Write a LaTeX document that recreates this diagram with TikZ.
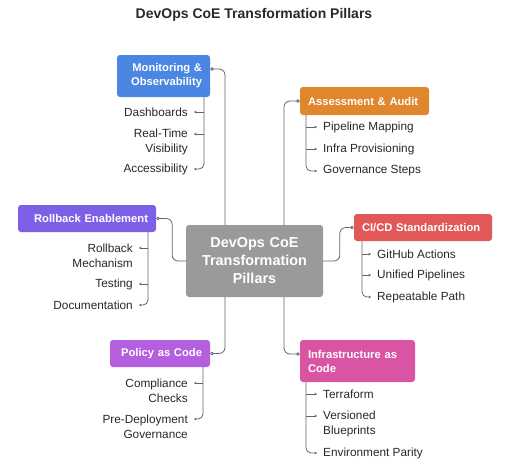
\documentclass[tikz,border=0pt]{standalone}
\usepackage{fontspec}
\setmainfont{Liberation Sans}
\usetikzlibrary{arrows.meta}

\definecolor{monblue}{RGB}{74,134,226}
\definecolor{auditorange}{RGB}{224,134,44}
\definecolor{rollpurple}{RGB}{125,96,230}
\definecolor{cicdred}{RGB}{226,88,88}
\definecolor{policyviolet}{RGB}{180,94,224}
\definecolor{infrapink}{RGB}{218,84,164}
\definecolor{hubgray}{RGB}{154,154,154}
\definecolor{textgray}{RGB}{40,40,40}
\definecolor{linkgray}{RGB}{100,100,100}

\tikzset{
  pillar/.style={rounded corners=3pt, text=white, inner xsep=8pt, inner ysep=0pt,
    minimum height=27pt, font=\fontsize{11.2}{14}\selectfont\bfseries},
  leftpillar/.style={pillar, align=right},
  rightpillar/.style={pillar, align=left},
  leaf/.style={text=textgray, inner xsep=6pt, inner ysep=1pt, font=\fontsize{11.8}{15}\selectfont},
  link/.style={draw=linkgray, line width=0.8pt, rounded corners=6pt},
  branch/.style={draw=linkgray, line width=0.8pt, rounded corners=5pt, -{Stealth[length=2.5pt,width=2.5pt]}},
}

\begin{document}
\begin{tikzpicture}[x=1pt,y=1pt,yscale=-1,xscale=1]
\path (0,0) rectangle (512,471); %set diagram to the reference size

%Title
\node[text=textgray, font=\fontsize{14}{16}\selectfont\bfseries] (title) at (254,15) {DevOps CoE Transformation Pillars};

%Hub
\node[fill=hubgray, rounded corners=3pt, text=white, align=center, text width=121pt, inner xsep=8pt,
  minimum height=72pt, font=\fontsize{14.4}{18}\selectfont\bfseries] (hub) at (254.5,261) {DevOps CoE\\Transformation\\Pillars};
\coordinate (ht1) at (225,225);
\coordinate (ht2) at (284,225);
\coordinate (hb1) at (225,297);
\coordinate (hb2) at (284,297);

%Pillars
\node[leftpillar, fill=monblue, text width=77pt, minimum height=42pt] (mon) at (163.5,76) {Monitoring \&\\Observability};
\node[rightpillar, fill=auditorange, text width=113pt, minimum height=28pt] (audit) at (364.5,101) {Assessment \& Audit};
\node[leftpillar, fill=rollpurple, text width=122pt] (roll) at (87,218.5) {Rollback Enablement};
\node[rightpillar, fill=cicdred, text width=122pt] (cicd) at (423,227.5) {CI/CD Standardization};
\node[leftpillar, fill=policyviolet, text width=84pt] (policy) at (160,353.5) {Policy as Code};
\node[rightpillar, fill=infrapink, text width=99pt, minimum height=42pt] (infra) at (357.5,361) {Infrastructure as\\Code};

%Links from pillars to hub
\draw[link, {Circle[open,length=3.5pt]}-] ([yshift=-7pt]mon.east) -| (ht1);
\draw[link, {Circle[open,length=3.5pt]}-] (audit.west) -| (ht2);
\draw[link, {Circle[open,length=3.5pt]}-] (roll.east) -- ++(16,0) |- (hub.west);
\draw[link, {Circle[open,length=3.5pt]}-] (cicd.west) -- ++(-14,0) |- (hub.east);
\draw[link, {Circle[open,length=3.5pt]}-] (policy.east) -| (hb1);
\draw[link, {Circle[open,length=3.5pt]}-] ([yshift=-7pt]infra.west) -| (hb2);

%Monitoring leaves
\node[leaf, anchor=east] (dash) at (194,112) {Dashboards};
\node[leaf, anchor=east, align=right] (rtvis) at (194,141.5) {Real-Time\\Visibility};
\node[leaf, anchor=east] (access) at (194,169) {Accessibility};
\coordinate (monspine) at (204,97);
\coordinate (rtvisln) at ([yshift=-7.5pt]rtvis.east);
\draw[branch] (monspine |- dash.east) -- (dash.east);
\draw[branch] (monspine |- rtvisln) -- (rtvisln);
\draw[branch] (monspine) |- (access.east);

%Audit leaves
\node[leaf, anchor=west] (pipemap) at (317,127) {Pipeline Mapping};
\node[leaf, anchor=west] (infraprov) at (317,149) {Infra Provisioning};
\node[leaf, anchor=west] (govsteps) at (317,171) {Governance Steps};
\coordinate (auditspine) at (306,115);
\draw[branch] (auditspine |- pipemap.west) -- (pipemap.west);
\draw[branch] (auditspine |- infraprov.west) -- (infraprov.west);
\draw[branch] (auditspine) |- (govsteps.west);

%Rollback leaves
\node[leaf, anchor=east, align=right] (rbmech) at (139,255.5) {Rollback\\Mechanism};
\node[leaf, anchor=east] (testing) at (139,284) {Testing};
\node[leaf, anchor=east] (docs) at (139,305) {Documentation};
\coordinate (rollspine) at (148,232);
\coordinate (rbmechln) at ([yshift=-7.5pt]rbmech.east);
\draw[branch] (rollspine |- rbmechln) -- (rbmechln);
\draw[branch] (rollspine |- testing.east) -- (testing.east);
\draw[branch] (rollspine) |- (docs.east);

%CI/CD leaves
\node[leaf, anchor=west] (ghact) at (371,254) {GitHub Actions};
\node[leaf, anchor=west] (unipipe) at (371,275) {Unified Pipelines};
\node[leaf, anchor=west] (reppath) at (371,297) {Repeatable Path};
\coordinate (cicdspine) at (362,241);
\draw[branch] (cicdspine |- ghact.west) -- (ghact.west);
\draw[branch] (cicdspine |- unipipe.west) -- (unipipe.west);
\draw[branch] (cicdspine) |- (reppath.west);

%Policy leaves
\node[leaf, anchor=east, align=right] (compl) at (194,390.5) {Compliance\\Checks};
\node[leaf, anchor=east, align=right] (predeploy) at (194,426.5) {Pre-Deployment\\Governance};
\coordinate (policyspine) at (203,367);
\coordinate (complln) at ([yshift=-7.5pt]compl.east);
\coordinate (predeployln) at ([yshift=-7.5pt]predeploy.east);
\draw[branch] (policyspine |- complln) -- (complln);
\draw[branch] (policyspine) |- (predeployln);

%Infra leaves
\node[leaf, anchor=west] (terra) at (317,394) {Terraform};
\node[leaf, anchor=west, align=left] (verblue) at (317,423.5) {Versioned\\Blueprints};
\node[leaf, anchor=west] (envpar) at (317,453) {Environment Parity};
\coordinate (infraspine) at (306,382);
\coordinate (verblueln) at ([yshift=-7.5pt]verblue.west);
\draw[branch] (infraspine |- terra.west) -- (terra.west);
\draw[branch] (infraspine |- verblueln) -- (verblueln);
\draw[branch] (infraspine) |- (envpar.west);

\end{tikzpicture}
\end{document}
